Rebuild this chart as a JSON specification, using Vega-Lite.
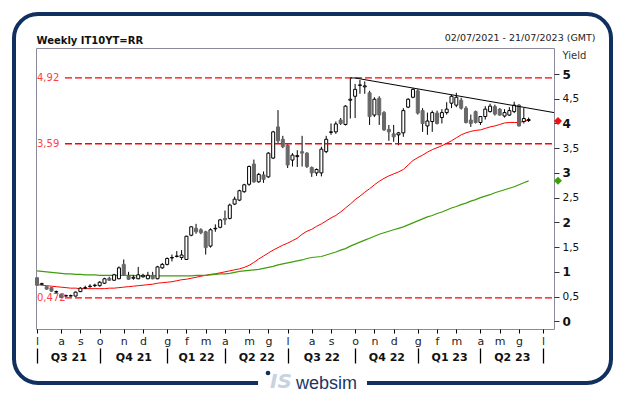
{
  "$schema": "https://vega.github.io/schema/vega-lite/v6.json",
  "width": 518,
  "height": 281,
  "autosize": {"type": "none"},
  "padding": {"left": 36, "top": 48, "right": 72, "bottom": 67},
  "background": "white",
  "config": {
    "view": {"stroke": "#8b8b9b", "strokeWidth": 1},
    "font": "DejaVu Sans",
    "axis": {"grid": false},
    "scale": {"continuousPadding": 0}
  },
  "datasets": {
    "w": [
      {"d":"2021-07-02","o":0.88,"h":0.89,"l":0.72,"c":0.73,"m1":0.74,"m2":1.02},
      {"d":"2021-07-09","o":0.75,"h":0.78,"l":0.73,"c":0.76,"m1":0.73,"m2":1.01},
      {"d":"2021-07-16","o":0.70,"h":0.71,"l":0.64,"c":0.65,"m1":0.72,"m2":1.00},
      {"d":"2021-07-23","o":0.68,"h":0.69,"l":0.60,"c":0.61,"m1":0.71,"m2":0.99},
      {"d":"2021-07-30","o":0.59,"h":0.62,"l":0.57,"c":0.60,"m1":0.70,"m2":0.98},
      {"d":"2021-08-06","o":0.54,"h":0.55,"l":0.472,"c":0.48,"m1":0.69,"m2":0.97},
      {"d":"2021-08-13","o":0.51,"h":0.54,"l":0.50,"c":0.52,"m1":0.68,"m2":0.96},
      {"d":"2021-08-20","o":0.51,"h":0.54,"l":0.50,"c":0.52,"m1":0.67,"m2":0.96},
      {"d":"2021-08-27","o":0.51,"h":0.60,"l":0.50,"c":0.59,"m1":0.67,"m2":0.95},
      {"d":"2021-09-03","o":0.60,"h":0.69,"l":0.59,"c":0.67,"m1":0.66,"m2":0.95},
      {"d":"2021-09-10","o":0.67,"h":0.72,"l":0.65,"c":0.68,"m1":0.66,"m2":0.94},
      {"d":"2021-09-17","o":0.70,"h":0.75,"l":0.68,"c":0.71,"m1":0.66,"m2":0.94},
      {"d":"2021-09-24","o":0.72,"h":0.76,"l":0.69,"c":0.73,"m1":0.66,"m2":0.94},
      {"d":"2021-10-01","o":0.72,"h":0.81,"l":0.70,"c":0.79,"m1":0.66,"m2":0.93},
      {"d":"2021-10-08","o":0.77,"h":0.88,"l":0.76,"c":0.86,"m1":0.66,"m2":0.93},
      {"d":"2021-10-15","o":0.87,"h":0.90,"l":0.82,"c":0.83,"m1":0.67,"m2":0.93},
      {"d":"2021-10-22","o":0.83,"h":0.96,"l":0.82,"c":0.94,"m1":0.67,"m2":0.93},
      {"d":"2021-10-29","o":0.86,"h":1.11,"l":0.85,"c":1.08,"m1":0.68,"m2":0.93},
      {"d":"2021-11-05","o":1.15,"h":1.25,"l":0.93,"c":0.94,"m1":0.69,"m2":0.93},
      {"d":"2021-11-12","o":0.92,"h":1.00,"l":0.84,"c":0.85,"m1":0.70,"m2":0.93},
      {"d":"2021-11-19","o":0.87,"h":0.93,"l":0.84,"c":0.89,"m1":0.71,"m2":0.93},
      {"d":"2021-11-26","o":0.86,"h":1.10,"l":0.85,"c":0.94,"m1":0.72,"m2":0.92},
      {"d":"2021-12-03","o":0.90,"h":0.96,"l":0.88,"c":0.93,"m1":0.73,"m2":0.92},
      {"d":"2021-12-10","o":0.86,"h":1.00,"l":0.85,"c":0.93,"m1":0.74,"m2":0.92},
      {"d":"2021-12-17","o":0.93,"h":1.00,"l":0.85,"c":0.86,"m1":0.75,"m2":0.92},
      {"d":"2021-12-24","o":0.86,"h":1.12,"l":0.85,"c":1.10,"m1":0.77,"m2":0.92},
      {"d":"2021-12-31","o":1.08,"h":1.18,"l":1.06,"c":1.15,"m1":0.78,"m2":0.92},
      {"d":"2022-01-07","o":1.15,"h":1.29,"l":1.13,"c":1.27,"m1":0.79,"m2":0.92},
      {"d":"2022-01-14","o":1.28,"h":1.35,"l":1.21,"c":1.29,"m1":0.80,"m2":0.92},
      {"d":"2022-01-21","o":1.31,"h":1.42,"l":1.29,"c":1.32,"m1":0.82,"m2":0.92},
      {"d":"2022-01-28","o":1.29,"h":1.44,"l":1.24,"c":1.34,"m1":0.84,"m2":0.92},
      {"d":"2022-02-04","o":1.25,"h":1.73,"l":1.24,"c":1.72,"m1":0.85,"m2":0.92},
      {"d":"2022-02-11","o":1.74,"h":1.92,"l":1.72,"c":1.91,"m1":0.87,"m2":0.92},
      {"d":"2022-02-18","o":1.88,"h":1.97,"l":1.77,"c":1.81,"m1":0.89,"m2":0.93},
      {"d":"2022-02-25","o":1.85,"h":1.88,"l":1.76,"c":1.79,"m1":0.91,"m2":0.93},
      {"d":"2022-03-04","o":1.81,"h":1.83,"l":1.35,"c":1.49,"m1":0.93,"m2":0.93},
      {"d":"2022-03-11","o":1.52,"h":1.88,"l":1.49,"c":1.85,"m1":0.95,"m2":0.94},
      {"d":"2022-03-18","o":1.87,"h":1.96,"l":1.81,"c":1.88,"m1":0.96,"m2":0.95},
      {"d":"2022-03-25","o":1.90,"h":2.07,"l":1.88,"c":2.05,"m1":0.98,"m2":0.96},
      {"d":"2022-04-01","o":2.08,"h":2.24,"l":1.95,"c":2.05,"m1":1.00,"m2":0.96},
      {"d":"2022-04-08","o":2.08,"h":2.38,"l":2.06,"c":2.35,"m1":1.02,"m2":0.97},
      {"d":"2022-04-15","o":2.37,"h":2.52,"l":2.35,"c":2.47,"m1":1.04,"m2":0.99},
      {"d":"2022-04-22","o":2.45,"h":2.66,"l":2.43,"c":2.64,"m1":1.06,"m2":1.01},
      {"d":"2022-04-29","o":2.62,"h":2.78,"l":2.60,"c":2.76,"m1":1.09,"m2":1.02},
      {"d":"2022-05-06","o":2.77,"h":3.15,"l":2.74,"c":3.13,"m1":1.13,"m2":1.03},
      {"d":"2022-05-13","o":3.18,"h":3.27,"l":2.80,"c":2.82,"m1":1.19,"m2":1.04},
      {"d":"2022-05-20","o":2.82,"h":3.00,"l":2.80,"c":2.97,"m1":1.26,"m2":1.05},
      {"d":"2022-05-27","o":2.96,"h":3.03,"l":2.80,"c":2.87,"m1":1.32,"m2":1.07},
      {"d":"2022-06-03","o":2.92,"h":3.42,"l":2.90,"c":3.40,"m1":1.38,"m2":1.09},
      {"d":"2022-06-10","o":3.30,"h":3.85,"l":3.28,"c":3.83,"m1":1.44,"m2":1.11},
      {"d":"2022-06-17","o":3.93,"h":4.27,"l":3.60,"c":3.65,"m1":1.49,"m2":1.14},
      {"d":"2022-06-24","o":3.68,"h":3.75,"l":3.50,"c":3.53,"m1":1.54,"m2":1.16},
      {"d":"2022-07-01","o":3.56,"h":3.58,"l":3.10,"c":3.16,"m1":1.58,"m2":1.18},
      {"d":"2022-07-08","o":3.26,"h":3.40,"l":3.13,"c":3.36,"m1":1.63,"m2":1.20},
      {"d":"2022-07-15","o":3.33,"h":3.46,"l":3.12,"c":3.35,"m1":1.68,"m2":1.22},
      {"d":"2022-07-22","o":3.43,"h":3.75,"l":3.13,"c":3.40,"m1":1.76,"m2":1.24},
      {"d":"2022-07-29","o":3.40,"h":3.42,"l":3.10,"c":3.13,"m1":1.82,"m2":1.27},
      {"d":"2022-08-05","o":3.11,"h":3.13,"l":2.92,"c":3.00,"m1":1.86,"m2":1.29},
      {"d":"2022-08-12","o":3.00,"h":3.09,"l":2.94,"c":3.07,"m1":1.92,"m2":1.30},
      {"d":"2022-08-19","o":3.00,"h":3.53,"l":2.93,"c":3.48,"m1":1.97,"m2":1.31},
      {"d":"2022-08-26","o":3.43,"h":3.75,"l":3.40,"c":3.68,"m1":2.03,"m2":1.34},
      {"d":"2022-09-02","o":3.82,"h":4.00,"l":3.77,"c":3.83,"m1":2.09,"m2":1.37},
      {"d":"2022-09-09","o":3.83,"h":4.04,"l":3.79,"c":3.99,"m1":2.14,"m2":1.40},
      {"d":"2022-09-16","o":4.07,"h":4.11,"l":3.97,"c":4.00,"m1":2.21,"m2":1.44},
      {"d":"2022-09-23","o":3.98,"h":4.37,"l":3.96,"c":4.35,"m1":2.29,"m2":1.47},
      {"d":"2022-09-30","o":4.47,"h":4.92,"l":4.10,"c":4.49,"m1":2.37,"m2":1.52},
      {"d":"2022-10-07","o":4.55,"h":4.80,"l":4.11,"c":4.69,"m1":2.46,"m2":1.56},
      {"d":"2022-10-14","o":4.77,"h":4.88,"l":4.60,"c":4.78,"m1":2.53,"m2":1.60},
      {"d":"2022-10-21","o":4.74,"h":4.85,"l":4.60,"c":4.76,"m1":2.61,"m2":1.64},
      {"d":"2022-10-28","o":4.62,"h":4.66,"l":3.97,"c":4.14,"m1":2.68,"m2":1.68},
      {"d":"2022-11-04","o":4.17,"h":4.53,"l":4.13,"c":4.49,"m1":2.76,"m2":1.72},
      {"d":"2022-11-11","o":4.51,"h":4.55,"l":3.97,"c":4.17,"m1":2.83,"m2":1.76},
      {"d":"2022-11-18","o":4.22,"h":4.25,"l":3.85,"c":3.87,"m1":2.89,"m2":1.79},
      {"d":"2022-11-25","o":3.88,"h":3.97,"l":3.65,"c":3.83,"m1":2.94,"m2":1.82},
      {"d":"2022-12-02","o":3.79,"h":3.97,"l":3.63,"c":3.73,"m1":2.98,"m2":1.85},
      {"d":"2022-12-09","o":3.77,"h":3.83,"l":3.56,"c":3.81,"m1":3.02,"m2":1.88},
      {"d":"2022-12-16","o":3.81,"h":4.31,"l":3.73,"c":4.26,"m1":3.07,"m2":1.91},
      {"d":"2022-12-23","o":4.33,"h":4.51,"l":4.31,"c":4.49,"m1":3.16,"m2":1.95},
      {"d":"2022-12-30","o":4.53,"h":4.71,"l":4.51,"c":4.69,"m1":3.25,"m2":1.99},
      {"d":"2023-01-06","o":4.66,"h":4.69,"l":4.18,"c":4.21,"m1":3.31,"m2":2.03},
      {"d":"2023-01-13","o":4.26,"h":4.31,"l":3.83,"c":4.00,"m1":3.36,"m2":2.07},
      {"d":"2023-01-20","o":3.95,"h":4.22,"l":3.77,"c":4.05,"m1":3.42,"m2":2.11},
      {"d":"2023-01-27","o":4.04,"h":4.26,"l":3.83,"c":4.22,"m1":3.47,"m2":2.14},
      {"d":"2023-02-03","o":4.21,"h":4.26,"l":3.98,"c":4.00,"m1":3.51,"m2":2.18},
      {"d":"2023-02-10","o":4.12,"h":4.29,"l":4.00,"c":4.22,"m1":3.55,"m2":2.21},
      {"d":"2023-02-17","o":4.22,"h":4.43,"l":4.18,"c":4.29,"m1":3.60,"m2":2.25},
      {"d":"2023-02-24","o":4.41,"h":4.58,"l":4.31,"c":4.55,"m1":3.65,"m2":2.29},
      {"d":"2023-03-03","o":4.37,"h":4.62,"l":4.33,"c":4.53,"m1":3.71,"m2":2.32},
      {"d":"2023-03-10","o":4.47,"h":4.52,"l":4.28,"c":4.31,"m1":3.77,"m2":2.36},
      {"d":"2023-03-17","o":4.31,"h":4.35,"l":4.00,"c":4.02,"m1":3.81,"m2":2.39},
      {"d":"2023-03-24","o":4.07,"h":4.18,"l":3.93,"c":4.00,"m1":3.84,"m2":2.43},
      {"d":"2023-03-31","o":4.24,"h":4.26,"l":4.00,"c":4.02,"m1":3.86,"m2":2.46},
      {"d":"2023-04-07","o":4.02,"h":4.15,"l":3.97,"c":4.14,"m1":3.87,"m2":2.50},
      {"d":"2023-04-14","o":4.14,"h":4.35,"l":4.08,"c":4.29,"m1":3.90,"m2":2.53},
      {"d":"2023-04-21","o":4.24,"h":4.40,"l":4.22,"c":4.35,"m1":3.93,"m2":2.56},
      {"d":"2023-04-28","o":4.34,"h":4.38,"l":4.16,"c":4.19,"m1":3.95,"m2":2.60},
      {"d":"2023-05-05","o":4.29,"h":4.31,"l":4.16,"c":4.17,"m1":3.98,"m2":2.63},
      {"d":"2023-05-12","o":4.15,"h":4.29,"l":4.12,"c":4.22,"m1":4.01,"m2":2.66},
      {"d":"2023-05-19","o":4.17,"h":4.33,"l":4.15,"c":4.26,"m1":4.02,"m2":2.69},
      {"d":"2023-05-26","o":4.24,"h":4.44,"l":4.21,"c":4.37,"m1":4.02,"m2":2.72},
      {"d":"2023-06-02","o":4.37,"h":4.39,"l":3.94,"c":3.95,"m1":4.02,"m2":2.76},
      {"d":"2023-06-09","o":4.04,"h":4.31,"l":4.00,"c":4.10,"m1":4.04,"m2":2.80},
      {"d":"2023-06-16","o":4.06,"h":4.12,"l":4.03,"c":4.08,"m1":4.07,"m2":2.84}
    ],
    "ref": [
      {"v": 4.92, "t": "4,92"},
      {"v": 3.59, "t": "3,59"},
      {"v": 0.472, "t": "0,472"}
    ],
    "trend": [
      {"d": "2022-09-30", "v": 4.92},
      {"d": "2022-10-07", "v": 4.92},
      {"d": "2023-07-22T20:00:00Z", "v": 4.22}
    ],
    "last": [
      {"s": "a", "v": 4.05},
      {"s": "b", "v": 2.84}
    ]
  },
  "resolve": {"axis": {"x": "independent", "y": "independent"}},
  "layer": [
    {
      "data": {"values": [{}]},
      "mark": {"type": "rect", "fill": "transparent", "stroke": "#10305f", "strokeWidth": 4, "cornerRadius": 24},
      "encoding": {
        "x": {"datum": {"year": 2021, "month": 5, "date": 29, "hours": 14, "utc": true}, "type": "temporal", "axis": null,
              "scale": {"type": "utc", "nice": false, "padding": 0, "domain": [{"year": 2021, "month": 6, "date": 30, "hours": 13, "utc": true}, {"year": 2023, "month": 7, "date": 22, "hours": 20, "utc": true}]}},
        "x2": {"datum": {"year": 2023, "month": 10, "date": 13, "hours": 15, "utc": true}},
        "y": {"datum": 6.213, "type": "quantitative", "axis": null, "scale": {"domain": [-0.156, 5.526], "nice": false, "zero": false, "padding": 0}},
        "y2": {"datum": -1.247}
      }
    },
    {
      "data": {"values": [{}]},
      "mark": {"type": "rect", "fill": "white", "strokeWidth": 0},
      "encoding": {
        "x": {"datum": {"year": 2022, "month": 5, "date": 19, "hours": 1, "utc": true}, "type": "temporal", "axis": null,
              "scale": {"type": "utc", "nice": false, "padding": 0, "domain": [{"year": 2021, "month": 6, "date": 30, "hours": 13, "utc": true}, {"year": 2023, "month": 7, "date": 22, "hours": 20, "utc": true}]}},
        "x2": {"datum": {"year": 2022, "month": 10, "date": 24, "hours": 6, "utc": true}},
        "y": {"datum": -1.106, "type": "quantitative", "axis": null, "scale": {"domain": [-0.156, 5.526], "nice": false, "zero": false, "padding": 0}},
        "y2": {"datum": -1.41}
      }
    },
    {
      "data": {"values": [{}]},
      "mark": {"type": "point", "filled": true, "shape": "circle", "size": 22, "color": "#10305f", "opacity": 1},
      "encoding": {
        "x": {"datum": {"year": 2022, "month": 6, "date": 2, "hours": 11, "utc": true}, "type": "temporal", "axis": null,
              "scale": {"type": "utc", "nice": false, "padding": 0, "domain": [{"year": 2021, "month": 6, "date": 30, "hours": 13, "utc": true}, {"year": 2023, "month": 7, "date": 22, "hours": 20, "utc": true}]}},
        "y": {"datum": -1.046, "type": "quantitative", "axis": null, "scale": {"domain": [-0.156, 5.526], "nice": false, "zero": false, "padding": 0}}
      }
    },
    {
      "data": {"values": [{}]},
      "mark": {"type": "text", "text": "IS", "align": "center", "baseline": "alphabetic", "font": "DejaVu Sans", "fontSize": 20, "fontStyle": "italic", "fontWeight": "bold", "color": "#c9d3df"},
      "encoding": {
        "x": {"datum": {"year": 2022, "month": 6, "date": 21, "hours": 8, "utc": true}, "type": "temporal", "axis": null,
              "scale": {"type": "utc", "nice": false, "padding": 0, "domain": [{"year": 2021, "month": 6, "date": 30, "hours": 13, "utc": true}, {"year": 2023, "month": 7, "date": 22, "hours": 20, "utc": true}]}},
        "y": {"datum": -1.349, "type": "quantitative", "axis": null, "scale": {"domain": [-0.156, 5.526], "nice": false, "zero": false, "padding": 0}}
      }
    },
    {
      "data": {"values": [{}]},
      "mark": {"type": "text", "text": "websim", "align": "left", "baseline": "alphabetic", "font": "Liberation Sans", "fontSize": 18, "color": "#1b3565"},
      "encoding": {
        "x": {"datum": {"year": 2022, "month": 7, "date": 13, "hours": 3, "utc": true}, "type": "temporal", "axis": null,
              "scale": {"type": "utc", "nice": false, "padding": 0, "domain": [{"year": 2021, "month": 6, "date": 30, "hours": 13, "utc": true}, {"year": 2023, "month": 7, "date": 22, "hours": 20, "utc": true}]}},
        "y": {"datum": -1.369, "type": "quantitative", "axis": null, "scale": {"domain": [-0.156, 5.526], "nice": false, "zero": false, "padding": 0}}
      }
    },
    {
      "data": {"name": "w"},
      "mark": {"type": "line", "color": "#ff0000", "strokeWidth": 1},
      "encoding": {
        "x": {"field": "d", "type": "temporal",
              "scale": {"type": "utc", "nice": false, "padding": 0, "domain": [{"year": 2021, "month": 6, "date": 30, "hours": 13, "utc": true}, {"year": 2023, "month": 7, "date": 22, "hours": 20, "utc": true}]},
              "axis": {"orient": "bottom", "title": null, "domain": false, "grid": false, "ticks": false, "tickSize": 0,
                       "values": [
                         {"year": 2021, "month": 8, "date": 16, "hours": 12, "utc": true},
                         {"year": 2021, "month": 11, "date": 19, "utc": true},
                         {"year": 2022, "month": 2, "date": 18, "utc": true},
                         {"year": 2022, "month": 5, "date": 16, "hours": 12, "utc": true},
                         {"year": 2022, "month": 8, "date": 19, "utc": true},
                         {"year": 2022, "month": 11, "date": 21, "hours": 12, "utc": true},
                         {"year": 2023, "month": 2, "date": 20, "hours": 12, "utc": true},
                         {"year": 2023, "month": 5, "date": 22, "hours": 12, "utc": true}
                       ],
                       "labelExpr": "'Q' + (floor(utcmonth(datum.value)/3)+1) + ' ' + utcFormat(datum.value, '%y')",
                       "labelPadding": 31, "labelBaseline": "alphabetic", "labelFont": "DejaVu Sans", "labelFontSize": 11,
                       "labelFontWeight": "bold", "labelColor": "#111111", "labelOverlap": false, "labelFlush": false}},
        "y": {"field": "m1", "type": "quantitative", "axis": null, "scale": {"domain": [-0.156, 5.526], "nice": false, "zero": false, "padding": 0}}
      }
    },
    {
      "data": {"name": "w"},
      "mark": {"type": "line", "color": "#3f9e0c", "strokeWidth": 1.2},
      "encoding": {
        "x": {"field": "d", "type": "temporal",
              "scale": {"type": "utc", "nice": false, "padding": 0, "domain": [{"year": 2021, "month": 6, "date": 30, "hours": 13, "utc": true}, {"year": 2023, "month": 7, "date": 22, "hours": 20, "utc": true}]},
              "axis": {"orient": "top", "labels": false, "ticks": false, "domain": false, "grid": false,
                       "title": "Weekly IT10YT=RR", "titleX": 0, "titleY": -5, "titleAlign": "left", "titleAngle": 0,
                       "titleBaseline": "alphabetic", "titleFont": "DejaVu Sans", "titleFontSize": 10,
                       "titleFontWeight": "bold", "titleColor": "#111111"}},
        "y": {"field": "m2", "type": "quantitative", "axis": null, "scale": {"domain": [-0.156, 5.526], "nice": false, "zero": false, "padding": 0}}
      }
    },
    {
      "data": {"name": "w"},
      "mark": {"type": "rule", "color": "#000000", "strokeWidth": 1},
      "encoding": {
        "x": {"field": "d", "type": "temporal",
              "scale": {"type": "utc", "nice": false, "padding": 0, "domain": [{"year": 2021, "month": 6, "date": 30, "hours": 13, "utc": true}, {"year": 2023, "month": 7, "date": 22, "hours": 20, "utc": true}]},
              "axis": {"orient": "bottom", "title": null, "domain": false, "grid": false,
                       "values": [
                         {"year": 2021, "month": 7, "date": 2, "utc": true},
                         {"year": 2021, "month": 8, "date": 6, "utc": true},
                         {"year": 2021, "month": 9, "date": 3, "utc": true},
                         {"year": 2021, "month": 10, "date": 1, "utc": true},
                         {"year": 2021, "month": 11, "date": 5, "utc": true},
                         {"year": 2021, "month": 12, "date": 3, "utc": true},
                         {"year": 2022, "month": 1, "date": 7, "utc": true},
                         {"year": 2022, "month": 2, "date": 4, "utc": true},
                         {"year": 2022, "month": 3, "date": 4, "utc": true},
                         {"year": 2022, "month": 4, "date": 1, "utc": true},
                         {"year": 2022, "month": 5, "date": 6, "utc": true},
                         {"year": 2022, "month": 6, "date": 3, "utc": true},
                         {"year": 2022, "month": 7, "date": 1, "utc": true},
                         {"year": 2022, "month": 8, "date": 5, "utc": true},
                         {"year": 2022, "month": 9, "date": 2, "utc": true},
                         {"year": 2022, "month": 10, "date": 7, "utc": true},
                         {"year": 2022, "month": 11, "date": 4, "utc": true},
                         {"year": 2022, "month": 12, "date": 2, "utc": true},
                         {"year": 2023, "month": 1, "date": 6, "utc": true},
                         {"year": 2023, "month": 2, "date": 3, "utc": true},
                         {"year": 2023, "month": 3, "date": 3, "utc": true},
                         {"year": 2023, "month": 4, "date": 7, "utc": true},
                         {"year": 2023, "month": 5, "date": 5, "utc": true},
                         {"year": 2023, "month": 6, "date": 2, "utc": true},
                         {"year": 2023, "month": 7, "date": 7, "utc": true}
                       ],
                       "labelExpr": "['g','f','m','a','m','g','l','a','s','o','n','d'][utcmonth(datum.value)]",
                       "tickSize": 4, "tickColor": "#000000", "tickWidth": 1,
                       "labelPadding": 11, "labelBaseline": "alphabetic", "labelFont": "DejaVu Sans", "labelFontSize": 11,
                       "labelColor": "#222222", "labelOverlap": false, "labelFlush": false}},
        "y": {"field": "l", "type": "quantitative",
              "scale": {"domain": [-0.156, 5.526], "nice": false, "zero": false, "padding": 0},
              "axis": {"orient": "right", "values": [0, 0.5, 1, 1.5, 2, 2.5, 3, 3.5, 4, 4.5, 5],
                       "labelExpr": "replace(format(datum.value, '~g'), '.', ',')",
                       "tickSize": 5, "tickColor": "#333333", "labelPadding": 3, "domain": false, "grid": false,
                       "labelFont": "DejaVu Sans",
                       "labelFontSize": {"condition": {"test": "datum.value % 1 === 0", "value": 12}, "value": 10.5},
                       "labelFontWeight": {"condition": {"test": "datum.value % 1 === 0", "value": "bold"}, "value": "normal"},
                       "labelColor": "#111111", "labelFlush": false, "labelOverlap": false,
                       "title": "Yield", "titleAngle": 0, "titleX": 8, "titleY": 10, "titleAlign": "left",
                       "titleBaseline": "alphabetic", "titleFont": "DejaVu Sans", "titleFontSize": 10,
                       "titleFontWeight": "normal", "titleColor": "#333333"}},
        "y2": {"field": "h"}
      }
    },
    {
      "data": {"name": "w"},
      "mark": {"type": "bar", "size": 3, "strokeWidth": 1},
      "encoding": {
        "x": {"field": "d", "type": "temporal",
              "scale": {"type": "utc", "nice": false, "padding": 0, "domain": [{"year": 2021, "month": 6, "date": 30, "hours": 13, "utc": true}, {"year": 2023, "month": 7, "date": 22, "hours": 20, "utc": true}]},
              "axis": {"orient": "bottom", "labels": false, "domain": false, "grid": false, "title": null,
                       "tickSize": 15, "tickWidth": 1.3, "tickColor": "#000000", "offset": 19,
                       "values": [
                         {"year": 2021, "month": 7, "date": 2, "utc": true},
                         {"year": 2021, "month": 10, "date": 1, "utc": true},
                         {"year": 2022, "month": 1, "date": 7, "utc": true},
                         {"year": 2022, "month": 4, "date": 1, "utc": true},
                         {"year": 2022, "month": 7, "date": 1, "utc": true},
                         {"year": 2022, "month": 10, "date": 7, "utc": true},
                         {"year": 2023, "month": 1, "date": 6, "utc": true},
                         {"year": 2023, "month": 4, "date": 7, "utc": true},
                         {"year": 2023, "month": 7, "date": 7, "utc": true}
                       ]}},
        "y": {"field": "o", "type": "quantitative", "axis": null, "scale": {"domain": [-0.156, 5.526], "nice": false, "zero": false, "padding": 0}},
        "y2": {"field": "c"},
        "fill": {"condition": {"test": "datum.c < datum.o", "value": "#686868"}, "value": "#ffffff"},
        "stroke": {"condition": {"test": "datum.c < datum.o", "value": "#686868"}, "value": "#000000"}
      }
    },
    {
      "data": {"name": "ref"},
      "mark": {"type": "rule", "color": "#ff0000", "strokeWidth": 1.3, "strokeDash": [7, 3]},
      "encoding": {
        "x": {"datum": {"year": 2021, "month": 8, "date": 11, "hours": 15, "utc": true}, "type": "temporal", "axis": null,
              "scale": {"type": "utc", "nice": false, "padding": 0, "domain": [{"year": 2021, "month": 6, "date": 30, "hours": 13, "utc": true}, {"year": 2023, "month": 7, "date": 22, "hours": 20, "utc": true}]}},
        "x2": {"datum": {"year": 2023, "month": 7, "date": 22, "hours": 20, "utc": true}},
        "y": {"field": "v", "type": "quantitative", "axis": null, "scale": {"domain": [-0.156, 5.526], "nice": false, "zero": false, "padding": 0}}
      }
    },
    {
      "data": {"name": "ref"},
      "mark": {"type": "text", "align": "left", "baseline": "middle", "dx": 1, "font": "DejaVu Sans", "fontSize": 10, "color": "#ff4040"},
      "encoding": {
        "x": {"datum": {"year": 2021, "month": 6, "date": 30, "hours": 13, "utc": true}, "type": "temporal", "axis": null,
              "scale": {"type": "utc", "nice": false, "padding": 0, "domain": [{"year": 2021, "month": 6, "date": 30, "hours": 13, "utc": true}, {"year": 2023, "month": 7, "date": 22, "hours": 20, "utc": true}]}},
        "y": {"field": "v", "type": "quantitative", "axis": null, "scale": {"domain": [-0.156, 5.526], "nice": false, "zero": false, "padding": 0}},
        "text": {"field": "t"}
      }
    },
    {
      "data": {"name": "trend"},
      "mark": {"type": "line", "color": "#000000", "strokeWidth": 1},
      "encoding": {
        "x": {"field": "d", "type": "temporal",
              "scale": {"type": "utc", "nice": false, "padding": 0, "domain": [{"year": 2021, "month": 6, "date": 30, "hours": 13, "utc": true}, {"year": 2023, "month": 7, "date": 22, "hours": 20, "utc": true}]},
              "axis": {"orient": "top", "labels": false, "ticks": false, "domain": false, "grid": false,
                       "title": "02/07/2021 - 21/07/2023 (GMT)", "titleX": 559, "titleY": -8, "titleAlign": "right",
                       "titleAngle": 0, "titleBaseline": "alphabetic", "titleFont": "DejaVu Sans", "titleFontSize": 9.5,
                       "titleFontWeight": "normal", "titleColor": "#222222"}},
        "y": {"field": "v", "type": "quantitative", "axis": null, "scale": {"domain": [-0.156, 5.526], "nice": false, "zero": false, "padding": 0}}
      }
    },
    {
      "data": {"name": "last"},
      "mark": {"type": "point", "shape": "diamond", "filled": true, "size": 65, "opacity": 1},
      "encoding": {
        "x": {"datum": {"year": 2023, "month": 7, "date": 28, "hours": 15, "utc": true}, "type": "temporal", "axis": null,
              "scale": {"type": "utc", "nice": false, "padding": 0, "domain": [{"year": 2021, "month": 6, "date": 30, "hours": 13, "utc": true}, {"year": 2023, "month": 7, "date": 22, "hours": 20, "utc": true}]}},
        "y": {"field": "v", "type": "quantitative", "axis": null, "scale": {"domain": [-0.156, 5.526], "nice": false, "zero": false, "padding": 0}},
        "color": {"field": "s", "type": "nominal", "scale": {"domain": ["a", "b"], "range": ["#ee1111", "#3f9e0c"]}, "legend": null}
      }
    }
  ]
}
